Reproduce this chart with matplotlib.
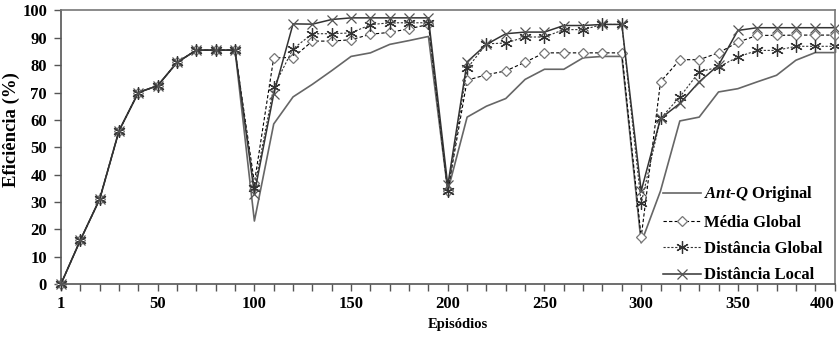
import matplotlib
matplotlib.use("Agg")
import matplotlib.pyplot as plt
import numpy as np

episodes = [1] + list(range(10, 401, 10))
tick_labels = ["1", "50", "100", "150", "200", "250", "300", "350", "400"]

common = [0, 16, 31, 56, 70, 72.5, 81, 85.5, 85.5, 85.5]

antq = common + [23, 58.5, 68.4, 73, 78, 83.2, 84.5, 87.6, 89, 90.5,
                 34, 61, 65, 67.8, 74.8, 78.5, 78.5, 82.7, 83.2, 83.2,
                 15, 34, 59.6, 61, 70.2, 71.4, 73.9, 76.3, 81.8, 84.6, 84.6]
media_global = common + [37, 82.7, 82.8, 88.8, 88.8, 89.3, 91.3, 92, 93.3, 94.9,
                         34, 74.5, 76.5, 77.9, 81.1, 84.5, 84.5, 84.5, 84.5, 84.5,
                         17, 73.9, 82, 82, 84.5, 88.4, 90.9, 90.9, 91, 91, 91]
dist_global = common + [35, 72, 86, 91.5, 91.5, 91.8, 94.8, 95.5, 95.5, 95.5,
                        34, 78.8, 87.8, 88.1, 90.3, 90.3, 93, 93, 94.9, 94.9,
                        29.5, 60.5, 68.4, 77.5, 79.3, 83, 85.4, 85.4, 86.9, 86.9, 86.9]
dist_local = common + [33, 69.5, 95.1, 95, 96.7, 97.3, 97.3, 97.3, 97.3, 97.3,
                       36, 81.2, 87.6, 91.5, 92.1, 92.1, 94.5, 94.5, 94.9, 94.9,
                       34, 60.5, 66, 73.9, 80, 92.7, 93.7, 93.7, 93.7, 93.7, 93.7]

plt.rcParams['font.family'] = ['Liberation Serif', 'DejaVu Serif']
plt.rcParams['font.weight'] = 'bold'
plt.rcParams['mathtext.fontset'] = 'custom'
plt.rcParams['mathtext.it'] = 'Liberation Serif:italic:bold'
plt.rcParams['mathtext.rm'] = 'Liberation Serif:bold'
plt.rcParams['mathtext.bf'] = 'Liberation Serif:bold'

fig = plt.figure(figsize=(8.39, 3.38), dpi=100)
ax = fig.add_axes([0.0727, 0.16, 0.922, 0.809])

x = np.arange(len(episodes))
ax.plot(x, antq, color='#666666', lw=1.2, ls='-', label=r'$\mathit{Ant}$-$\mathit{Q}$ Original', clip_on=False)
ax.plot(x, media_global, color='black', lw=0.8, ls=(0, (3, 2)), marker='D', ms=5,
        mfc='white', mec='#777777', mew=0.9, label='Média Global', clip_on=False)
ax.plot(x, dist_global, color='#333333', lw=0.8, ls=(0, (2, 1.5)), marker=(6, 2, 0), ms=9,
        mec='#333333', mew=0.9, label='Distância Global', clip_on=False)
ax.plot(x, dist_local, color='#333333', lw=1.1, ls='-', marker='x', ms=7,
        mec='#555555', mew=0.9, label='Distância Local', clip_on=False)

ax.set_xlim(0, 40)
ax.set_ylim(0, 100)
ax.set_yticks(np.arange(0, 101, 10))
ax.set_xticks(np.arange(0, 41, 5))
ax.set_xticklabels(tick_labels)
ax.set_xticks(np.arange(0, 41, 1), minor=True)
ax.tick_params(axis='both', which='both', direction='out', length=5, width=1, color='#555555',
               labelsize=12)
ax.tick_params(axis='x', which='major', pad=4)
ax.tick_params(axis='y', which='major', pad=5)
ax.get_xticklabels()[-1].set_horizontalalignment('right')
for s in ax.spines.values():
    s.set_color('#777777')
    s.set_linewidth(1.2)
ax.spines['left'].set_color('#555555')
ax.spines['bottom'].set_color('#555555')

ax.set_ylabel('Eficiência (%)', fontsize=13.5, fontweight='bold')
ax.yaxis.set_label_coords(-0.053, 0.563)
ax.set_xlabel('Episódios', fontsize=10.5, fontweight='bold')
ax.xaxis.set_label_coords(0.513, -0.125)

leg = ax.legend(loc='lower right', bbox_to_anchor=(0.997, -0.035), frameon=False, fontsize=12,
                handlelength=2.3, handletextpad=0.15, labelspacing=0.62, borderaxespad=0.2)
for t in leg.get_texts():
    t.set_fontweight('bold')

fig.savefig('out.png', dpi=100)
